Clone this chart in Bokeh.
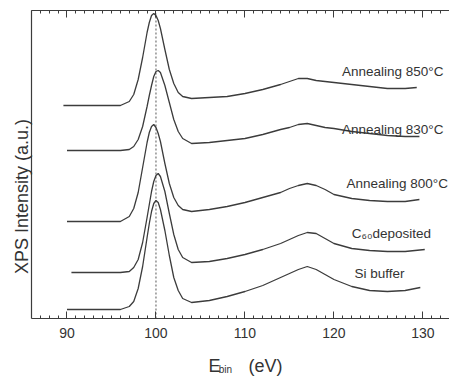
import math
from bokeh.plotting import figure
from bokeh.models import Range1d, LinearAxis, FixedTicker, Label, ColumnDataSource
from bokeh.embed import file_html
from bokeh.resources import INLINE
from bokeh.core.properties import value

# ---------------- data ----------------
energy = [90, 95, 96, 97, 97.5, 98, 98.5, 99, 99.25, 99.5, 99.75, 100, 100.25, 100.5,
          101, 101.5, 102, 102.5, 103, 104, 106, 108, 110, 112, 114, 115, 116, 117,
          118, 119, 120, 122, 124, 126, 128, 130]

si_buffer = [10, 10, 10, 13, 18, 31, 53, 82, 96, 108, 116, 119, 117, 110, 89, 64, 42, 29,
             21, 17, 19, 23, 28, 34, 42, 46, 50, 53, 50, 45, 40, 33, 29, 28, 29, 32]
c60_deposited = [47, 47, 47, 48, 52, 60, 77, 102, 115, 128, 138, 144, 146, 143, 128, 106, 85, 70,
                 62, 57, 58, 61, 65, 70, 76, 80, 84, 87, 86, 81, 76, 71, 69, 68, 68, 70]
anneal_800 = [98, 98, 98, 103, 111, 127, 152, 177, 187, 193, 195, 192, 186, 178, 156, 136, 122, 114,
              110, 108, 110, 113, 117, 122, 127, 131, 134, 136, 134, 130, 125, 121, 119, 118, 118, 120]
anneal_830 = [169, 169, 169, 170, 173, 180, 193, 213, 224, 234, 243, 248, 249, 247, 234, 217, 200, 188,
              181, 176, 177, 179, 181, 185, 190, 192, 195, 196, 194, 192, 191, 188, 186, 184, 183, 183]
anneal_850 = [214, 214, 214, 218, 225, 240, 262, 287, 297, 304, 306, 304, 299, 291, 270, 250, 236, 227,
              223, 221, 222, 223, 226, 230, 235, 238, 241, 241, 239, 238, 237, 235, 233, 231, 231, 232]

series = [si_buffer, c60_deposited, anneal_800, anneal_830, anneal_850]
start_ev = [90.0, 90.5, 90.0, 90.0, 89.6]
end_ev = [129.7, 130.2, 129.6, 129.6, 129.3]

labels = ["Si buffer", "C\u2086\u2080deposited", "Annealing 800\u00b0C", "Annealing 830\u00b0C", "Annealing 850\u00b0C"]
label_x = [122.3, 122.0, 121.4, 120.9, 120.9]
label_y = [46, 86, 136, 190, 248]

ref_energy = 100.0
x_major = [90, 100, 110, 120, 130]
x_minor = [e for e in range(87, 133) if e not in x_major]

# plot box (data units)
x_lo, x_hi = 86.01, 132.98
y_lo, y_hi = 1, 309

FONT = "Liberation Sans"
LINE = "#3c3c3c"
TEXT = "#333333"

p = figure(width=449, height=379, output_backend="svg", toolbar_location=None,
           x_range=Range1d(82.53, 132.98), y_range=Range1d(-60, 319),
           x_axis_location=None, y_axis_location=None)
p.min_border = 0
p.min_border_left = 0
p.min_border_right = 0
p.min_border_top = 0
p.min_border_bottom = 0
p.outline_line_color = None
p.grid.visible = False
p.background_fill_color = "white"


def base_axis(ax):
    ax.axis_line_color = LINE
    ax.axis_line_width = 1.2
    ax.major_tick_line_color = LINE
    ax.minor_tick_line_color = LINE
    ax.major_tick_out = 0
    ax.minor_tick_out = 0
    ax.major_tick_in = 7
    ax.minor_tick_in = 3


# bottom axis with labels
bottom = LinearAxis(ticker=FixedTicker(ticks=x_major, minor_ticks=x_minor),
                    fixed_location=y_lo, bounds=(x_lo, x_hi))
base_axis(bottom)
bottom.major_label_text_font = FONT
bottom.major_label_text_font_size = "14px"
bottom.major_label_text_color = TEXT
bottom.major_label_standoff = 9
p.add_layout(bottom, "below")

# top axis: minor ticks only (no labels), plus longer marks at the major positions
top_minor = LinearAxis(ticker=FixedTicker(ticks=[], minor_ticks=x_minor),
                       fixed_location=y_hi, bounds=(x_lo, x_hi))
base_axis(top_minor)
p.add_layout(top_minor, "above")
top_major = LinearAxis(ticker=FixedTicker(ticks=[], minor_ticks=x_major),
                       fixed_location=y_hi, bounds=(x_lo, x_hi))
base_axis(top_major)
top_major.minor_tick_in = 7
p.add_layout(top_major, "above")

# left axis: line only
left = LinearAxis(ticker=FixedTicker(ticks=[]), fixed_location=x_lo, bounds=(y_lo, y_hi))
base_axis(left)
left.major_tick_in = 0
left.minor_tick_in = 0
p.add_layout(left, "left")

# reference line
p.line([ref_energy, ref_energy], [y_lo, max(anneal_850)], line_dash="2 2",
       line_color="#555555", line_width=1)

# spectra
for s, x0, x1 in zip(series, start_ev, end_ev):
    xs = [x0] + energy[1:-1] + [x1]
    p.line(xs, s, line_color=LINE, line_width=1.3)

src = ColumnDataSource(dict(x=label_x, y=label_y, t=labels))
p.text(x="x", y="y", text="t", source=src, text_font=value(FONT), text_font_size="13.5px",
       text_color=TEXT, text_align="left", text_baseline="middle")

# axis titles
p.add_layout(Label(x=84.9, y=125.5, text="XPS Intensity  (a.u.)", angle=math.pi / 2,
                   text_align="center", text_baseline="middle", text_font=FONT,
                   text_font_size="18px", text_color=TEXT))
p.add_layout(Label(x=105.9, y=-46, text="E", text_align="left", text_baseline="alphabetic",
                   text_font=FONT, text_font_size="18px", text_color=TEXT))
p.add_layout(Label(x=107.05, y=-50, text="bin", text_align="left", text_baseline="alphabetic",
                   text_font=FONT, text_font_size="10px", text_color=TEXT))
p.add_layout(Label(x=110.4, y=-46, text="(eV)", text_align="left", text_baseline="alphabetic",
                   text_font=FONT, text_font_size="18px", text_color=TEXT))

open("out.html", "w").write(file_html(p, INLINE))
